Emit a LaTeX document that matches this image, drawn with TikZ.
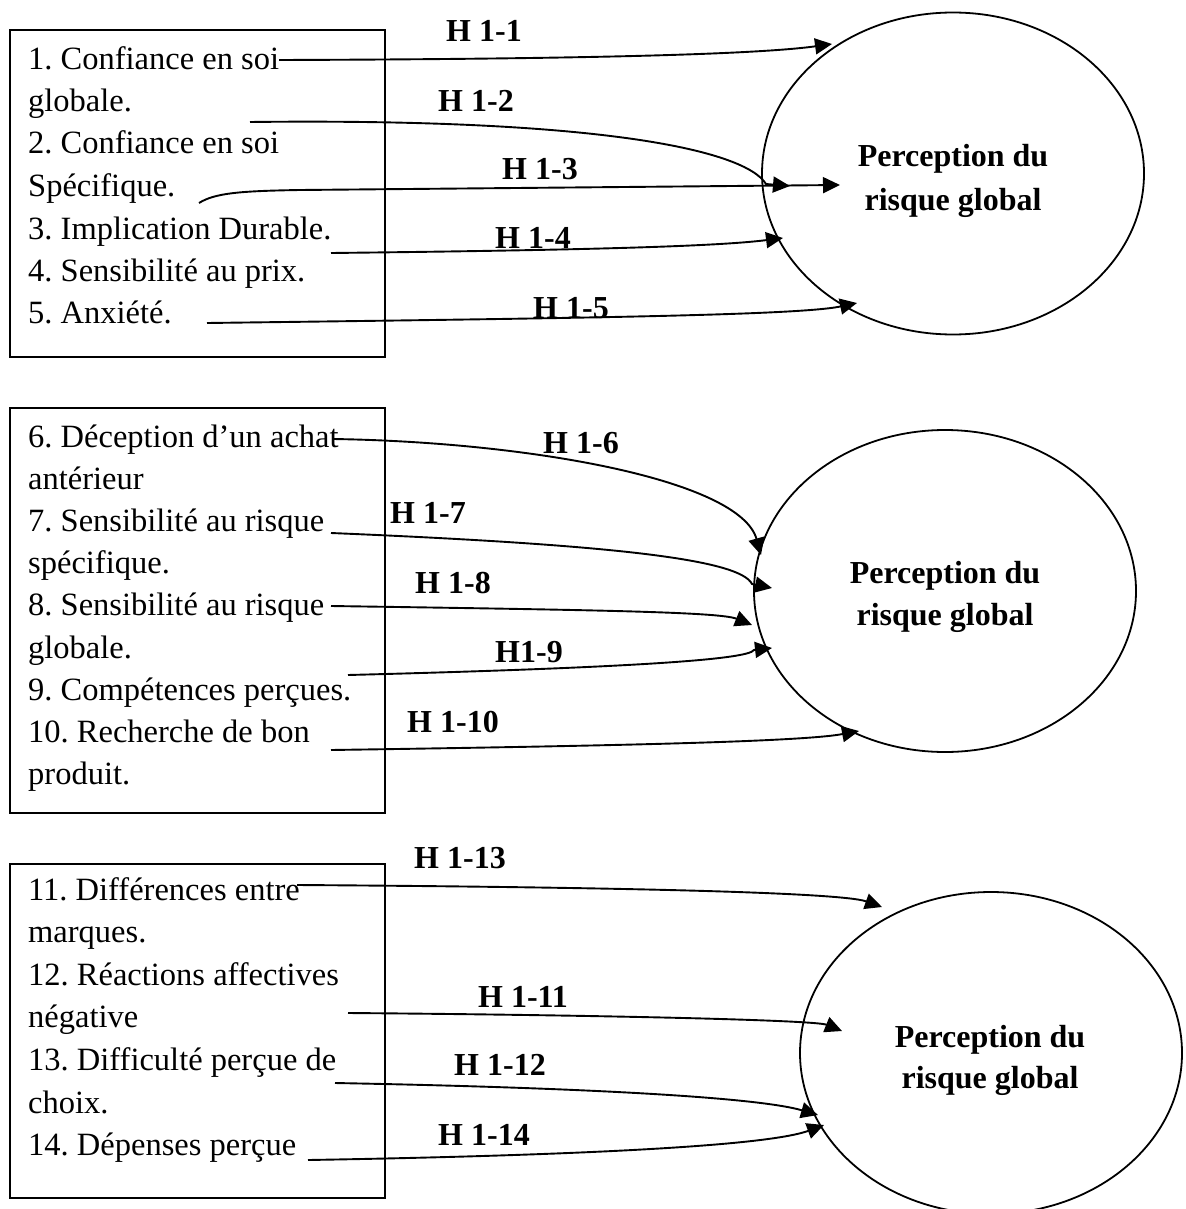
\documentclass[tikz,border=0pt]{standalone}
\usepackage{fontspec}
\setmainfont{Liberation Serif}
\usetikzlibrary{arrows.meta,shapes.geometric}
\frenchspacing
\begin{document}
\begin{tikzpicture}[x=1pt,y=-1pt,
  item/.style={anchor=base west, inner sep=0pt, font=\fontsize{32.5}{40}\selectfont},
  hyp/.style={anchor=base, inner sep=0pt, font=\fontsize{32}{40}\selectfont\bfseries},
  ctext/.style={anchor=base, inner sep=0pt, font=\fontsize{32}{40}\selectfont\bfseries},
  listbox/.style={draw, line width=1.8pt, anchor=north west, inner sep=0pt},
  construct/.style={draw, ellipse, line width=1.8pt, inner sep=0pt,
                    minimum width=382pt, minimum height=322pt},
  link/.style={line width=1.9pt, -{Triangle[length=17pt,width=16pt]}}]

\useasboundingbox (0,0) rectangle (1185,1209);

% ---------- first block ----------
\node[listbox, minimum width=375pt, minimum height=327pt] (box1) at (9,29) {};
\node[item] (i1)  at (28,70)    {1. Confiance en soi};
\node[item] (i1b) at (28,112)   {globale.};
\node[item] (i2)  at (28,154)   {2. Confiance en soi};
\node[item] (i2b) at (28,196.5) {Spécifique.};
\node[item] (i3)  at (28,239)   {3. Implication Durable.};
\node[item] (i4)  at (28,281)   {4. Sensibilité au prix.};
\node[item] (i5)  at (28,323)   {5. Anxiété.};

\node[construct] (c1) at (953,173.5) {};
\node[ctext] (c1a) at (953,167) {Perception du};
\node[ctext] (c1b) at (953,210) {risque global};

\node[hyp] (h11) at (484,42)  {H 1-1};
\node[hyp] (h12) at (476,112) {H 1-2};
\node[hyp] (h13) at (540,180) {H 1-3};
\node[hyp] (h14) at (533,248) {H 1-4};
\node[hyp] (h15) at (571,318) {H 1-5};

\coordinate (s1) at (279,60);   \coordinate (t1) at (832,44);
\coordinate (s2) at (250,122);  \coordinate (k2) at (766,184); \coordinate (t2) at (790,186);
\coordinate (s3) at (199,203);  \coordinate (k3) at (300,190); \coordinate (t3) at (840,185);
\coordinate (s4) at (331,253);  \coordinate (t4) at (783,238);
\coordinate (s5) at (207,323);  \coordinate (t5) at (857,303);

\draw[link] (s1) .. controls (600,59) and (760,54) .. (t1);
\draw[link] (s2) .. controls (600,118) and (745,150) .. (k2) -- (t2);
\draw[link] (s3) .. controls (215,193) and (240,191) .. (k3) -- (t3);
\draw[link] (s4) .. controls (600,250) and (720,246) .. (t4);
\draw[link] (s5) .. controls (600,318) and (800,315) .. (t5);

% ---------- second block ----------
\node[listbox, minimum width=375pt, minimum height=405pt] (box2) at (9,407) {};
\node[item] (i6)   at (28,447)   {6. Déception d’un achat};
\node[item] (i6b)  at (28,489.2) {antérieur};
\node[item] (i7)   at (28,531.4) {7. Sensibilité au risque};
\node[item] (i7b)  at (28,573.6) {spécifique.};
\node[item] (i8)   at (28,615.8) {8. Sensibilité au risque};
\node[item] (i8b)  at (28,658)   {globale.};
\node[item] (i9)   at (28,700.2) {9. Compétences perçues.};
\node[item] (i10)  at (28,742.4) {10. Recherche de bon};
\node[item] (i10b) at (28,784.6) {produit.};

\node[construct] (c2) at (945,591) {};
\node[ctext] (c2a) at (945,583) {Perception du};
\node[ctext] (c2b) at (945,625) {risque global};

\node[hyp] (h16)  at (581,453) {H 1-6};
\node[hyp] (h17)  at (428,523) {H 1-7};
\node[hyp] (h18)  at (453,593) {H 1-8};
\node[hyp] (h19)  at (529,662) {H1-9};
\node[hyp] (h110) at (453,732) {H 1-10};

\coordinate (s6)  at (333,439); \coordinate (t6)  at (761,555);
\coordinate (s7)  at (331,533); \coordinate (k7)  at (752,584); \coordinate (t7) at (772,588);
\coordinate (s8)  at (331,606); \coordinate (t8)  at (752,625);
\coordinate (s9)  at (348,675); \coordinate (k9)  at (754,650); \coordinate (t9) at (772,648);
\coordinate (s10) at (331,750); \coordinate (t10) at (859,731);

\draw[link] (s6) .. controls (530,442) and (740,480) .. (t6);
\draw[link] (s7) .. controls (620,545) and (740,560) .. (k7) -- (t7);
\draw[link] (s8) .. controls (600,610) and (720,612) .. (t8);
\draw[link] (s9) .. controls (620,668) and (748,660) .. (k9) -- (t9);
\draw[link] (s10) .. controls (600,746) and (800,742) .. (t10);

% ---------- third block ----------
\node[listbox, minimum width=375pt, minimum height=334pt] (box3) at (9,863) {};
\node[item] (i11)  at (28,900)    {11. Différences entre};
\node[item] (i11b) at (28,942.6)  {marques.};
\node[item] (i12)  at (28,985.2)  {12. Réactions affectives};
\node[item] (i12b) at (28,1027.8) {négative};
\node[item] (i13)  at (28,1070.4) {13. Difficulté perçue de};
\node[item] (i13b) at (28,1113)   {choix.};
\node[item] (i14)  at (28,1155.6) {14. Dépenses perçue};

\node[construct] (c3) at (991,1053) {};
\node[ctext] (c3a) at (990,1047) {Perception du};
\node[ctext] (c3b) at (990,1088) {risque global};

\node[hyp] (h113) at (460,868)  {H 1-13};
\node[hyp] (h111) at (523,1007) {H 1-11};
\node[hyp] (h112) at (500,1075) {H 1-12};
\node[hyp] (h114) at (484,1145) {H 1-14};

\coordinate (s13) at (297,885);  \coordinate (t13) at (882,907);
\coordinate (s11) at (348,1013); \coordinate (t11) at (842,1031);
\coordinate (s12) at (335,1083); \coordinate (t12) at (818,1115);
\coordinate (s14) at (308,1160); \coordinate (t14) at (824,1125);

\draw[link] (s13) .. controls (600,887) and (840,892) .. (t13);
\draw[link] (s11) .. controls (600,1015) and (815,1020) .. (t11);
\draw[link] (s12) .. controls (600,1088) and (760,1098) .. (t12);
\draw[link] (s14) .. controls (600,1155) and (770,1145) .. (t14);
\end{tikzpicture}
\end{document}
